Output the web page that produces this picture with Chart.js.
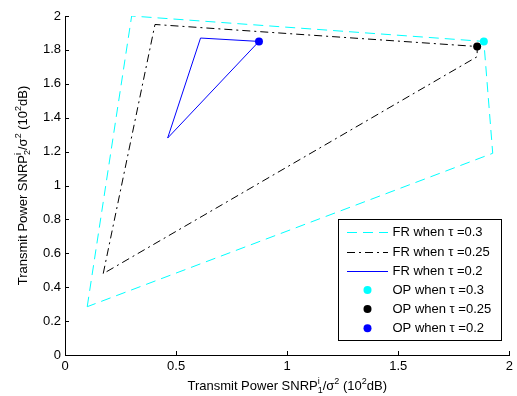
<!DOCTYPE html>
<html>
<head>
<meta charset="utf-8">
<script src="https://cdn.jsdelivr.net/npm/chart.js@4"></script>
<style>
  html, body { margin: 0; padding: 0; background: #fff; }
  #wrap { width: 517px; height: 396px; }
</style>
</head>
<body>
<div id="wrap"><canvas id="chart" width="517" height="396"></canvas></div>
<script>
// feasible regions (polygon corners, closed)
const frTau03 = [[0.1, 0.285], [0.3, 2.0], [1.885, 1.85], [1.925, 1.19], [0.1, 0.285]];
const frTau025 = [[0.172, 0.48], [0.405, 1.95], [1.855, 1.82], [1.855, 1.76], [0.172, 0.48]];
const frTau02 = [[0.873, 1.85], [0.61, 1.87], [0.462, 1.28], [0.873, 1.85]];

// operating points
const opTau03 = [[1.885, 1.85]];
const opTau025 = [[1.855, 1.82]];
const opTau02 = [[0.873, 1.85]];

const labels = ['FR when \u03c4 =0.3', 'FR when \u03c4 =0.25', 'FR when \u03c4 =0.2',
                'OP when \u03c4 =0.3', 'OP when \u03c4 =0.25', 'OP when \u03c4 =0.2'];

const xTicks = [0, 0.5, 1, 1.5, 2];
const yTicks = [0, 0.2, 0.4, 0.6, 0.8, 1, 1.2, 1.4, 1.6, 1.8, 2];

const FONT = '"Liberation Sans", Arial, sans-serif';

const toXY = (arr) => arr.map(p => ({ x: p[0], y: p[1] }));

const lineSet = (label, data, color, dash) => ({
    label: label,
    data: toXY(data),
    showLine: true,
    borderColor: color,
    borderWidth: 1,
    borderDash: dash,
    pointRadius: 0,
    fill: false,
    tension: 0,
    order: 2,
});

const pointSet = (label, data, color) => ({
    label: label,
    data: toXY(data),
    showLine: false,
    backgroundColor: color,
    borderColor: color,
    borderWidth: 0,
    pointRadius: 4,
    order: 1,
});

// inward tick marks on the left and bottom axes
const inwardTicks = {
    id: 'inwardTicks',
    afterDraw(chart) {
        const ctx = chart.ctx;
        const xs = chart.scales.x, ys = chart.scales.y;
        const area = chart.chartArea;
        ctx.save();
        ctx.strokeStyle = '#000';
        ctx.lineWidth = 1;
        ctx.beginPath();
        xTicks.forEach(v => {
            const px = Math.round(xs.getPixelForValue(v)) + 0.5;
            ctx.moveTo(px, area.bottom);
            ctx.lineTo(px, area.bottom - 4);
        });
        yTicks.forEach(v => {
            const py = Math.round(ys.getPixelForValue(v)) + 0.5;
            ctx.moveTo(area.left, py);
            ctx.lineTo(area.left + 4, py);
        });
        ctx.stroke();
        ctx.restore();
    }
};

// axis titles with super/subscripts
function richWidth(ctx, parts, size) {
    let w = 0;
    parts.forEach(p => {
        if (p.n !== undefined) {
            ctx.font = size + 'px ' + FONT;
            w += ctx.measureText(p.n).width;
        } else {
            ctx.font = Math.round(size * 0.7) + 'px ' + FONT;
            w += Math.max(ctx.measureText(p.sup || '').width, ctx.measureText(p.sub || '').width);
        }
    });
    return w;
}

function drawRich(ctx, parts, size, x, y) {
    ctx.textBaseline = 'alphabetic';
    ctx.textAlign = 'left';
    parts.forEach(p => {
        if (p.n !== undefined) {
            ctx.font = size + 'px ' + FONT;
            ctx.fillText(p.n, x, y);
            x += ctx.measureText(p.n).width;
        } else {
            ctx.font = Math.round(size * 0.7) + 'px ' + FONT;
            let w = 0;
            if (p.sup) {
                ctx.fillText(p.sup, x, y - size * 0.45);
                w = Math.max(w, ctx.measureText(p.sup).width);
            }
            if (p.sub) {
                ctx.fillText(p.sub, x, y + size * 0.25);
                w = Math.max(w, ctx.measureText(p.sub).width);
            }
            x += w;
        }
    });
}

const xTitle = [{ n: 'Transmit Power SNRP' }, { sup: 'i', sub: '1' }, { n: '/\u03c3' }, { sup: '2' },
                { n: ' (10' }, { sup: '2' }, { n: 'dB)' }];
const yTitle = [{ n: 'Transmit Power SNRP' }, { sup: 'i', sub: '2' }, { n: '/\u03c3' }, { sup: '2' },
                { n: ' (10' }, { sup: '2' }, { n: 'dB)' }];

const axisTitles = {
    id: 'axisTitles',
    afterDraw(chart) {
        const ctx = chart.ctx;
        const area = chart.chartArea;
        const size = 13;
        ctx.save();
        ctx.fillStyle = '#000';
        let w = richWidth(ctx, xTitle, size);
        drawRich(ctx, xTitle, size, (area.left + area.right) / 2 - w / 2, 390);
        w = richWidth(ctx, yTitle, size);
        ctx.translate(27, (area.top + area.bottom) / 2);
        ctx.rotate(-Math.PI / 2);
        drawRich(ctx, yTitle, size, -w / 2, 0);
        ctx.restore();
    }
};

// boxed legend in the lower right corner of the plot
const boxLegend = {
    id: 'boxLegend',
    afterDraw(chart) {
        const ctx = chart.ctx;
        const box = { left: 338.5, top: 219.5, right: 501.5, bottom: 340.5 };
        ctx.save();
        ctx.fillStyle = '#fff';
        ctx.fillRect(box.left, box.top, box.right - box.left, box.bottom - box.top);
        ctx.strokeStyle = '#000';
        ctx.lineWidth = 1;
        ctx.setLineDash([]);
        ctx.strokeRect(box.left, box.top, box.right - box.left, box.bottom - box.top);
        const rowH = 19.2;
        chart.data.datasets.forEach((ds, i) => {
            const cy = 232.3 + i * rowH;
            if (ds.showLine) {
                ctx.strokeStyle = ds.borderColor;
                ctx.setLineDash(ds.borderDash || []);
                ctx.beginPath();
                ctx.moveTo(347, Math.round(cy) + 0.5);
                ctx.lineTo(388, Math.round(cy) + 0.5);
                ctx.stroke();
            } else {
                ctx.fillStyle = ds.backgroundColor;
                ctx.beginPath();
                ctx.arc(367.5, cy, 4, 0, Math.PI * 2);
                ctx.fill();
            }
            ctx.setLineDash([]);
            ctx.fillStyle = '#000';
            ctx.font = '13px ' + FONT;
            ctx.textBaseline = 'middle';
            ctx.textAlign = 'left';
            ctx.fillText(ds.label, 392.5, cy + 0.5);
        });
        ctx.restore();
    }
};

const ctx = document.getElementById('chart').getContext('2d');
new Chart(ctx, {
    type: 'scatter',
    data: {
        datasets: [
            lineSet(labels[0], frTau03, '#00ffff', [10, 6]),
            lineSet(labels[1], frTau025, '#000000', [8, 4, 2, 4]),
            lineSet(labels[2], frTau02, '#0000ff', []),
            pointSet(labels[3], opTau03, '#00ffff'),
            pointSet(labels[4], opTau025, '#000000'),
            pointSet(labels[5], opTau02, '#0000ff'),
        ]
    },
    options: {
        responsive: false,
        animation: false,
        devicePixelRatio: 1,
        layout: { padding: { top: 16, right: 6, left: 0, bottom: 0 } },
        plugins: {
            legend: { display: false },
            tooltip: { enabled: false },
        },
        scales: {
            x: {
                type: 'linear',
                min: 0,
                max: 2,
                afterBuildTicks: (scale) => { scale.ticks = xTicks.map(v => ({ value: v })); },
                afterFit: (scale) => { scale.height = 41; },
                grid: { display: false, drawTicks: false },
                border: { display: true, color: '#000', width: 1 },
                ticks: {
                    color: '#000',
                    padding: 4,
                    font: { family: FONT, size: 13 },
                    callback: (v) => String(v),
                },
            },
            y: {
                type: 'linear',
                min: 0,
                max: 2,
                afterBuildTicks: (scale) => { scale.ticks = yTicks.map(v => ({ value: v })); },
                afterFit: (scale) => { scale.width = 65; },
                grid: { display: false, drawTicks: false },
                border: { display: true, color: '#000', width: 1 },
                ticks: {
                    color: '#000',
                    padding: 4,
                    font: { family: FONT, size: 13 },
                    callback: (v) => String(Math.round(v * 10) / 10),
                },
            },
        },
    },
    plugins: [inwardTicks, axisTitles, boxLegend],
});
</script>
</body>
</html>
